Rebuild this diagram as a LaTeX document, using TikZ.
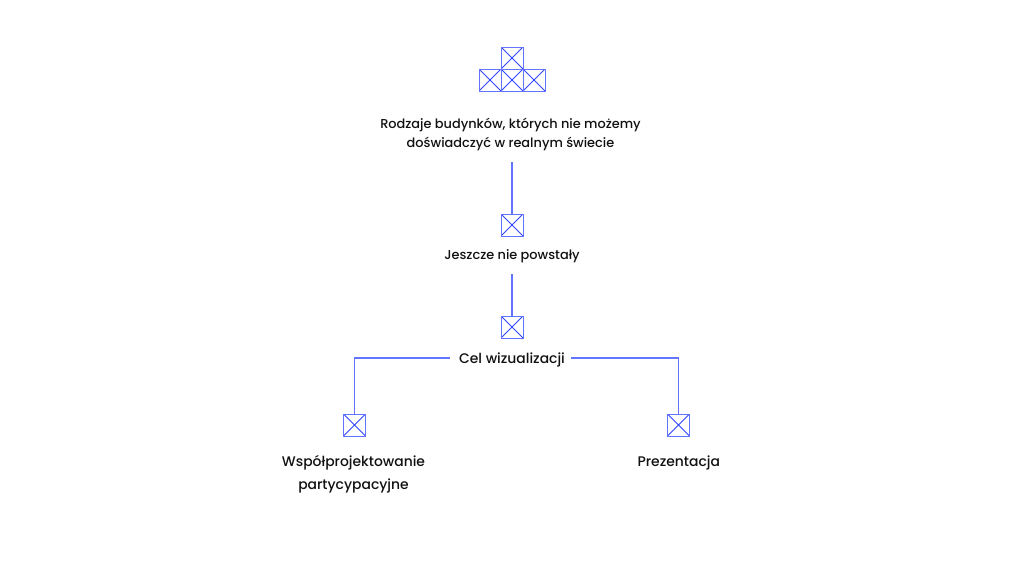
\documentclass[tikz,border=0pt]{standalone}
\usepackage{fontspec}
\setmainfont{Poppins}[UprightFont=* Medium]
\definecolor{lineblue}{HTML}{3045FF}
\definecolor{softblue}{HTML}{6375FF}
\definecolor{ink}{HTML}{111111}
\tikzset{
  xbox/.style={draw=softblue,line width=1pt,minimum size=22pt,inner sep=0pt,outer sep=0pt,cross out box},
  cross out box/.style={path picture={\draw[lineblue,line width=0.9pt] (path picture bounding box.north west)--(path picture bounding box.south east) (path picture bounding box.north east)--(path picture bounding box.south west);}},
  lab/.style={text=ink,font=\fontsize{12.9}{19}\selectfont,align=center,inner sep=0pt,outer sep=0pt},
  biglab/.style={lab,font=\fontsize{13.9}{23}\selectfont},
  link/.style={draw=softblue,line width=1.1pt}
}
\begin{document}
\begin{tikzpicture}[x=1pt,y=-1pt]
\useasboundingbox[fill=white] (0,0) rectangle (1024,576);
\node[xbox] (t) at (512,58) {};
\node[xbox] (l) at (490,80) {};
\node[xbox] (m) at (512,80) {};
\node[xbox] (r) at (534,80) {};
\node[lab] (a) at (510.5,134.8) {Rodzaje budynków, których nie możemy\\doświadczyć w realnym świecie};
\coordinate (astart) at (512,162);
\node[xbox] (b1) at (512,225) {};
\node[lab,minimum height=36pt] (b) at (512,256) {Jeszcze nie powstały};
\node[xbox] (c1) at (512,327) {};
\node[biglab] (c) at (512,359.7) {Cel wizualizacji};
\coordinate (cl) at (450,358);
\coordinate (cr) at (571,358);
\node[xbox] (d1) at (354.5,425) {};
\node[xbox] (e1) at (678.5,425) {};
\node[biglab,text width=200pt] (d) at (353.5,474.5) {Współprojektowanie\\partycypacyjne};
\node[biglab] (e) at (678.8,462.5) {Prezentacja};
\draw[link] (astart) -- (b1.north);
\draw[link] (b.south) -- (c1.north);
\draw[link] (cl) -| (d1.north);
\draw[link] (cr) -| (e1.north);
\end{tikzpicture}
\end{document}
